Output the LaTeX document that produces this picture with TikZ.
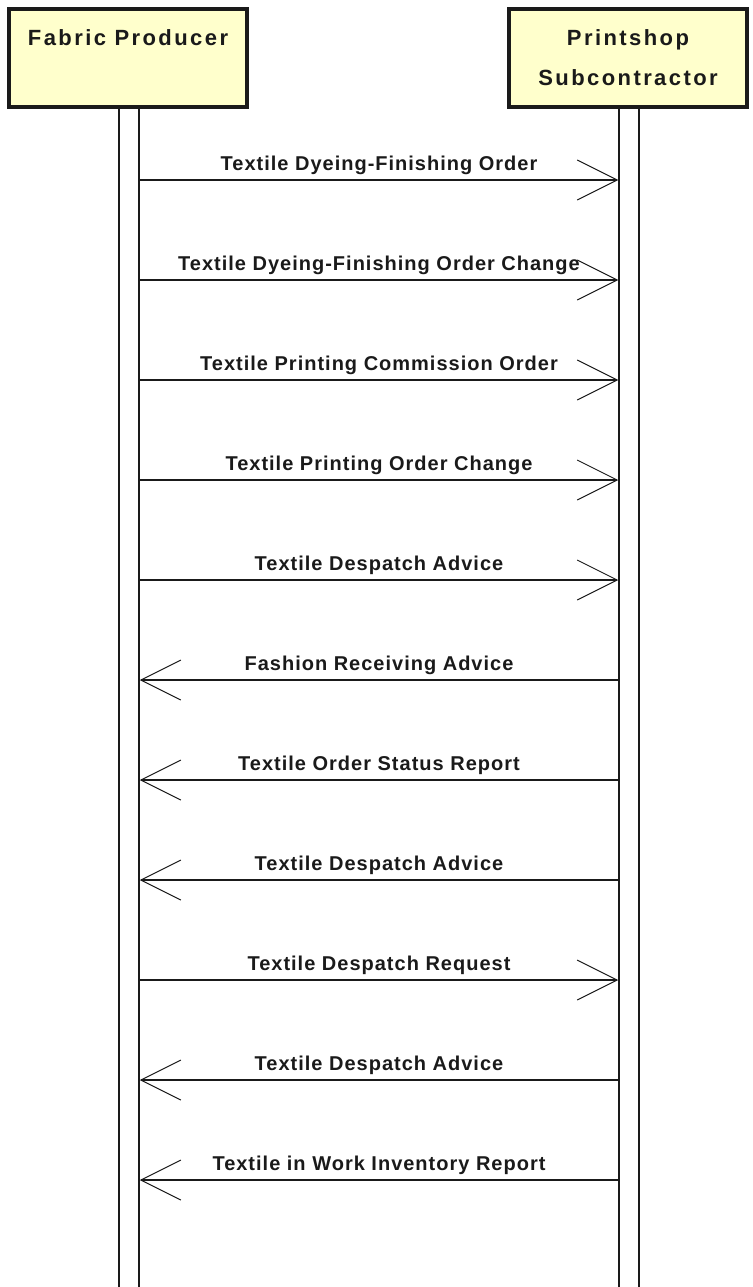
\documentclass[tikz,border=0pt]{standalone}
\usepackage{fontspec}
\usepackage{xcolor}
\usepackage{tikz}
\usetikzlibrary{arrows.meta}
\newfontfamily\boxfont{Liberation Sans}[LetterSpace=11]
\newfontfamily\msgfont{Liberation Sans}[LetterSpace=5]
\definecolor{boxfill}{HTML}{FFFFCC}
\definecolor{inkline}{HTML}{1A1A1A}
\tikzset{
	actor/.style={draw=inkline, fill=boxfill, line width=4pt, minimum width=238pt, minimum height=98pt, align=center, font=\boxfont\bfseries\fontsize{22}{40}\selectfont, text=inkline},
	lifebar/.style={draw=inkline, fill=white, line width=1.5pt, minimum width=20pt, minimum height=1190pt, inner sep=0pt, anchor=north},
	msg/.style={draw=inkline, line width=1.5pt, -{Straight Barb[length=40pt, width=40pt, line width=1pt]}},
	msglabel/.style={font=\msgfont\bfseries\fontsize{20}{24}\selectfont, text=inkline, inner sep=0pt, anchor=base, yshift=10pt}
}
\begin{document}
\begin{tikzpicture}[x=1pt, y=-1pt]
			\useasboundingbox (0,0) rectangle (752,1287);
			\node[lifebar] (fpbar) at (129,108) {};
			\node[lifebar] (psbar) at (629,108) {};
			\node[actor] (fp) at (128,58) {Fabric Producer\\\mbox{}};
			\node[actor] (ps) at (628,58) {Printshop\\Subcontractor};
			\draw[msg] (fpbar.east |- 0,180) -- node[msglabel] {Textile Dyeing-Finishing Order} (psbar.west |- 0,180);
			\draw[msg] (fpbar.east |- 0,280) -- node[msglabel] {Textile Dyeing-Finishing Order Change} (psbar.west |- 0,280);
			\draw[msg] (fpbar.east |- 0,380) -- node[msglabel] {Textile Printing Commission Order} (psbar.west |- 0,380);
			\draw[msg] (fpbar.east |- 0,480) -- node[msglabel] {Textile Printing Order Change} (psbar.west |- 0,480);
			\draw[msg] (fpbar.east |- 0,580) -- node[msglabel] {Textile Despatch Advice} (psbar.west |- 0,580);
			\draw[msg] (psbar.west |- 0,680) -- node[msglabel] {Fashion Receiving Advice} (fpbar.east |- 0,680);
			\draw[msg] (psbar.west |- 0,780) -- node[msglabel] {Textile Order Status Report} (fpbar.east |- 0,780);
			\draw[msg] (psbar.west |- 0,880) -- node[msglabel] {Textile Despatch Advice} (fpbar.east |- 0,880);
			\draw[msg] (fpbar.east |- 0,980) -- node[msglabel] {Textile Despatch Request} (psbar.west |- 0,980);
			\draw[msg] (psbar.west |- 0,1080) -- node[msglabel] {Textile Despatch Advice} (fpbar.east |- 0,1080);
			\draw[msg] (psbar.west |- 0,1180) -- node[msglabel] {Textile in Work Inventory Report} (fpbar.east |- 0,1180);
		\end{tikzpicture}
\end{document}
